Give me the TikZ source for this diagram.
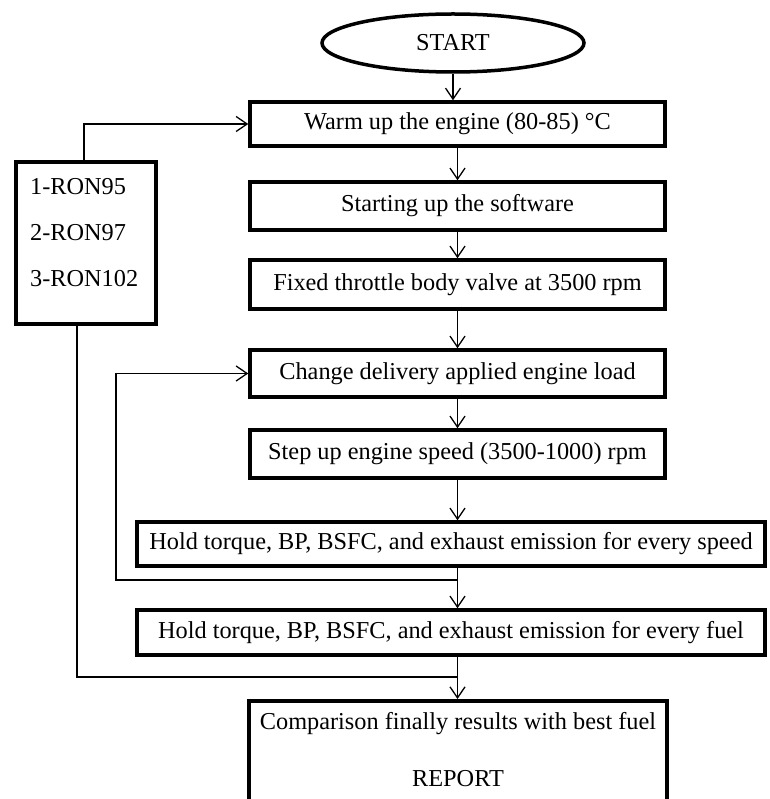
\documentclass[tikz,border=0pt]{standalone}
\usepackage{fontspec}
\setmainfont{Liberation Serif}
\usetikzlibrary{arrows.meta,shapes.geometric}
\begin{document}
\begin{tikzpicture}[x=1pt,y=-1pt,
  txt/.style={font=\fontsize{24.3}{29}\selectfont},
  box/.style={draw, line width=3.5pt, txt, inner sep=0pt},
  link/.style={line width=1.3pt, -{Straight Barb[length=11pt,width=15pt,line width=1.3pt]}},
  plain/.style={line width=1.3pt}]
\useasboundingbox (0,0) rectangle (769,799);
\clip (0,0) rectangle (769,799);
\node (start) [ellipse, draw, line width=3.5pt, txt, minimum width=262pt, minimum height=58pt, inner sep=0pt] at (453,43) {START};
\node (warm) [box, minimum width=415pt, minimum height=44pt] at (457.5,124) {Warm up the engine (80-85) °C};
\node (soft) [box, minimum width=415pt, minimum height=48pt] at (457.5,206) {Starting up the software};
\node (fixed) [box, minimum width=415pt, minimum height=49pt] at (457.5,284.5) {Fixed throttle body valve at 3500 rpm};
\node (change) [box, minimum width=415pt, minimum height=47pt] at (457.5,373.5) {Change delivery applied engine load};
\node (stepup) [box, minimum width=415pt, minimum height=48pt] at (457.5,454) {Step up engine speed (3500-1000) rpm};
\node (speed) [box, minimum width=628pt, minimum height=44pt] at (451,544) {Hold torque, BP, BSFC, and exhaust emission for every speed};
\node (fuel) [box, minimum width=628pt, minimum height=45pt] at (451,632.5) {Hold torque, BP, BSFC, and exhaust emission for every fuel};
\node (comp) [draw, line width=3.5pt, minimum width=418pt, minimum height=140pt, inner sep=0pt, anchor=north] at (458,699) {};
\node (comptxt) [txt, align=center, anchor=north, inner sep=0pt] at (458,712) {Comparison finally results with best fuel\\[28pt]REPORT};
\node (fuels) [draw, line width=3.5pt, minimum width=140pt, minimum height=162pt, inner sep=0pt] at (86,243) {};
\node (fuelstxt) [txt, anchor=north west, align=left, inner sep=0pt] at (30,178) {1-RON95\\[17pt]2-RON97\\[17pt]3-RON102};
% connectors
\coordinate (f1) at (84,162);
\coordinate (f2) at (77,324);
\coordinate (j1) at (458,580);
\coordinate (lp) at (116,580);
\coordinate (j2) at (458,677);
\draw[link] (start.south) -- (start.south |- warm.north);
\draw[link] (warm.south -| stepup.south) -- (soft.north -| stepup.south);
\draw[link] (soft.south -| stepup.south) -- (fixed.north -| stepup.south);
\draw[link] (fixed.south -| stepup.south) -- (change.north -| stepup.south);
\draw[link] (change.south -| stepup.south) -- (stepup.north);
\draw[link] (stepup.south) -- (stepup.south |- speed.north);
\draw[link] (speed.south -| stepup.south) -- (fuel.north -| stepup.south);
\draw[link] (j1) -- (lp) |- (change.west);
\draw[link] (f1) |- (warm.west);
\draw[plain] (f2) |- (j2);
\draw[link] (fuel.south -| stepup.south) -- (comp.north -| stepup.south);
\end{tikzpicture}
\end{document}
